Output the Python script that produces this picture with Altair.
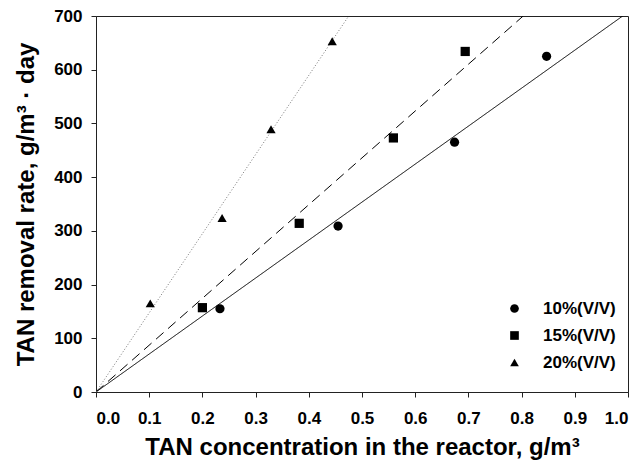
import altair as alt
import pandas as pd

series = ["10%(V/V)", "15%(V/V)", "20%(V/V)"]
x_10 = [0.233, 0.455, 0.674, 0.847]
y_10 = [155, 309, 465, 625]
x_15 = [0.200, 0.382, 0.559, 0.694]
y_15 = [157, 314, 473, 634]
x_20 = [0.102, 0.237, 0.329, 0.444]
y_20 = [165, 324, 489, 653]
fit_names = ["fit 10%", "fit 15%", "fit 20%"]
fit_x_start = [0.0, 0.0, 0.0]
fit_y_start = [0, 0, 0]
fit_x_end = [0.990, 0.803, 0.475]
fit_y_end = [700, 700, 700]
x_ticks = [0.0, 0.1, 0.2, 0.3, 0.4, 0.5, 0.6, 0.7, 0.8, 0.9, 1.0]
y_ticks = [0, 100, 200, 300, 400, 500, 600, 700]

rows = []
for s, xs, ys in zip(series, [x_10, x_15, x_20], [y_10, y_15, y_20]):
    for xv, yv in zip(xs, ys):
        rows.append({"series": s, "x": xv, "y": yv})
pts = pd.DataFrame(rows)

lrows = []
for s, x0, y0, x1, y1 in zip(fit_names, fit_x_start, fit_y_start, fit_x_end, fit_y_end):
    lrows.append({"fit": s, "x": x0, "y": y0})
    lrows.append({"fit": s, "x": x1, "y": y1})
lines = pd.DataFrame(lrows)

FONT = "Liberation Sans"

xenc = alt.X("x:Q", scale=alt.Scale(domain=[0, 1], nice=False),
             axis=alt.Axis(values=x_ticks, format=".1f", grid=False,
                           title="TAN concentration in the reactor, g/m³"))
yenc = alt.Y("y:Q", scale=alt.Scale(domain=[0, 700], nice=False),
             axis=alt.Axis(values=y_ticks, grid=False,
                           title="TAN removal rate, g/m³ · day"))

line_layer = alt.Chart(lines).mark_line(strokeWidth=1, clip=True).encode(
    x=xenc, y=yenc,
    detail="fit:N",
    color=alt.Color("fit:N", scale=alt.Scale(domain=fit_names, range=["#000000", "#000000", "#777777"]), legend=None),
    strokeDash=alt.StrokeDash("fit:N", scale=alt.Scale(domain=fit_names, range=[[1, 0], [10, 6], [1, 2]]), legend=None),
)

point_layer = alt.Chart(pts).mark_point(filled=True, color="black", opacity=1, size=85).encode(
    x=xenc, y=yenc,
    shape=alt.Shape("series:N", scale=alt.Scale(domain=series, range=["circle", "square", "triangle-up"]),
                    legend=alt.Legend(orient="none", legendX=410, legendY=284, title=None,
                                      labelFontSize=17, labelFont=FONT, labelFontWeight="bold",
                                      labelColor="black", symbolSize=75, rowPadding=9,
                                      labelOffset=20, padding=0,
                                      symbolFillColor="black", symbolStrokeColor="black",
                                      symbolStrokeWidth=0, symbolOpacity=1)),
)

chart = alt.layer(line_layer, point_layer).resolve_scale(
    shape="independent", color="independent", strokeDash="independent"
).properties(
    width=532, height=376,
    autosize=alt.AutoSizeParams(type="none"),
    padding={"left": 88, "top": 8, "right": 5, "bottom": 71},
).configure_view(
    stroke="#222", strokeWidth=1
).configure_axis(
    domainColor="#222", tickColor="#222", tickSize=5,
    labelFont=FONT, labelFontSize=17, labelFontWeight="bold", labelColor="black",
    titleFont=FONT, titleFontSize=24, titleFontWeight="bold", titleColor="black",
).configure_axisX(
    labelPadding=13, titlePadding=9,
).configure_axisY(
    labelPadding=9, titlePadding=15,
)

chart.save("out.html", embed_options={"renderer": "svg", "actions": False})
